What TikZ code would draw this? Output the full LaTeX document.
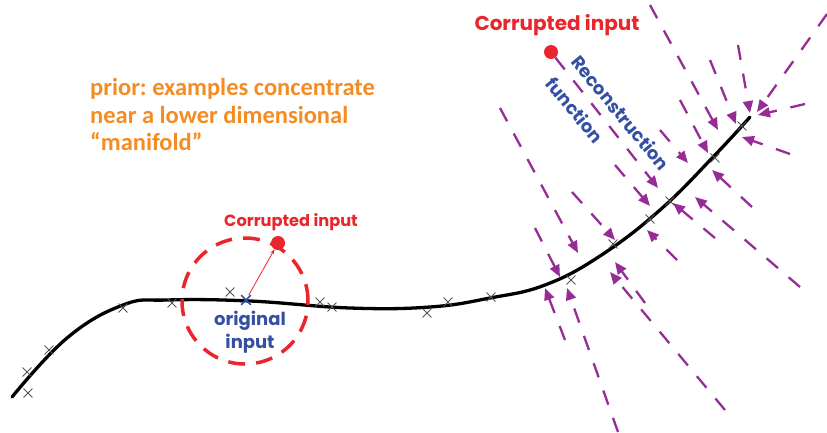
\documentclass[tikz,border=0pt]{standalone}
\usepackage{fontspec}
\newfontfamily\gothic{Poppins}
\newfontfamily\calib{Carlito}
\usetikzlibrary{arrows.meta,shapes.misc}
\definecolor{cred}{RGB}{232,38,43}
\definecolor{cblue}{RGB}{52,80,165}
\definecolor{corange}{RGB}{245,140,35}
\definecolor{cpurple}{RGB}{150,45,150}
\definecolor{cgray}{RGB}{85,85,85}
\begin{document}
\frenchspacing
\begin{tikzpicture}[x=1pt,y=-1pt,
  manifold/.style={line width=3.3pt, black, line cap=round},
  xmark/.style={cross out, draw=cgray, line width=0.9pt, minimum size=8pt, inner sep=0pt},
  flow/.style={cpurple, line width=2.3pt, dash pattern=on 15pt off 14pt, -{Triangle[length=12pt,width=10pt]}},
  orangetxt/.style={text=corange, font=\calib\bfseries\fontsize{24.5}{28}\selectfont, anchor=base west, inner sep=0pt},
  redtxt/.style={text=cred, font=\gothic\bfseries, anchor=base, inner sep=0pt},
  bluetxt/.style={text=cblue, font=\gothic\bfseries\fontsize{18}{22}\selectfont, inner sep=0pt},
  dot/.style={circle, fill=cred, minimum size=14pt, inner sep=0pt}]
\useasboundingbox (0,0) rectangle (827,432);

% manifold curve
\draw[manifold] plot[smooth, tension=0.7] coordinates {(12,397) (67,338) (123,305) (167,300) (250,301) (350,308) (430,307) (490,298) (545,285) (600,256) (660,210) (715,155) (750,117)};

% examples
\foreach \i/\p in {1/{(28,393)},2/{(27,372)},3/{(49,350)},4/{(123,308)},5/{(172,303)},6/{(230,292)},7/{(320,302)},8/{(332,307)},9/{(427,313)},10/{(448,302)},11/{(491,297)},12/{(571,280)},13/{(613,244)},14/{(650,219)},15/{(670,201)},16/{(715,158)},17/{(742,126)}}
  \node[xmark] (x\i) at \p {};

% orange text
\node[orangetxt] (o1) at (90,95) {prior: examples concentrate};
\node[orangetxt] (o2) at (90,123) {near a lower dimensional};
\node[orangetxt] (o3) at (90,150) {“manifold”};

% corrupted input near the origin
\node[circle, draw=cred, line width=3.5pt, dash pattern=on 17pt off 11pt, minimum size=126pt, inner sep=0pt] (ball) at (245,301) {};
\node[xmark, draw=cblue, line width=1.6pt] (orig) at (246,300) {};
\node[dot] (dot1) at (278,243) {};
\draw[cred, line width=0.8pt, -{Stealth[length=5pt,width=4pt]}] (orig) -- (dot1);
\node[redtxt, font=\gothic\bfseries\fontsize{16.2}{20}\selectfont] (c1) at (291,226) {Corrupted input};
\node[bluetxt, anchor=base] (b1) at (250,325) {original};
\node[bluetxt, anchor=base] (b2) at (250,348) {input};

% second corrupted input and reconstruction field
\node[dot] (dot2) at (551,52) {};
\node[redtxt, font=\gothic\bfseries\fontsize{20}{24}\selectfont] (c2) at (557,30) {Corrupted input};
\coordinate (eA) at (658,188);
\draw[flow] (dot2) -- (eA);
\node[bluetxt, rotate=-50.5] (r1) at (621,113) {Reconstruction};
\node[bluetxt, rotate=-50.5] (r2) at (575,110) {function};

\foreach \n/\a/\b/\c/\d in {
  T1/650/5/718/130, T2/710/60/736/124, T3/738/45/750/113, T4/827/14/757/112,
  T5/805/104/758/115, T6/790/154/742/137, G/680/100/708/153, H/660/130/688/163,
  I/615/165/650/206, U1/500/108/578/253, U2/535/228/560/277, U3/572/192/615/240,
  B1/752/207/712/170, B2/800/287/695/197, B3/715/238/673/203, B4/677/260/647/230,
  B5/565/340/545/288, B6/618/432/567/288, B7/725/410/610/272, B8/645/303/615/262}
{
  \coordinate (s\n) at (\a,\b);
  \coordinate (e\n) at (\c,\d);
  \draw[flow] (s\n) -- (e\n);
}
\end{tikzpicture}
\end{document}
